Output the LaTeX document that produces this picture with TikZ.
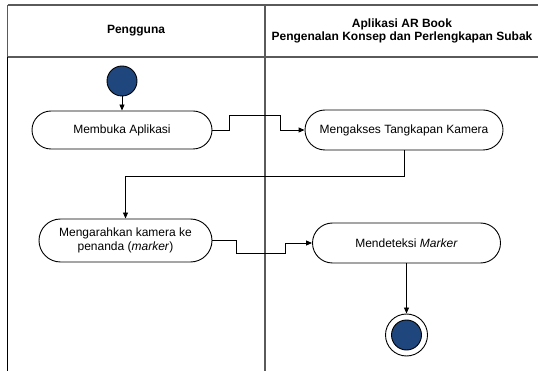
\documentclass[tikz,border=0pt]{standalone}
\usepackage{fontspec}
\setmainfont{Liberation Sans}
\usetikzlibrary{shapes.misc,arrows.meta}
\definecolor{dotblue}{RGB}{31,71,125}
\definecolor{tline}{RGB}{90,90,90}
\tikzset{
  act/.style={draw, line width=0.9pt, rounded rectangle, inner sep=0pt, align=center,
    font=\fontsize{12}{13.5}\selectfont},
  arr/.style={draw, line width=0.9pt, -{Triangle[length=6pt,width=5pt]}},
  conn/.style={draw, line width=0.9pt},
  tbl/.style={draw=tline, line width=1.3pt},
  hdr/.style={font=\bfseries\fontsize{12}{13.5}\selectfont, align=center}
}
\begin{document}
\begin{tikzpicture}[x=1pt,y=-1pt]
\useasboundingbox (0,0) rectangle (538,371);
% table
\draw[tbl] (7.5,5) -- (538,5);
\draw[tbl] (7.5,57) -- (538,57);
\draw[tbl] (7.5,5) -- (7.5,57);
\draw[line width=1.3pt, black] (7.5,57) -- (7.5,371);
\draw[tbl] (265,5) -- (265,371);
\node[hdr] (h1) at (136,31) {Pengguna};
\node[hdr] (h2) at (402,31) {Aplikasi AR Book\\Pengenalan Konsep dan Perlengkapan Subak};
% nodes
\node[draw, line width=0.9pt, circle, fill=dotblue, minimum size=30pt, inner sep=0pt] (start) at (122,81) {};
\node[act, minimum width=180pt, minimum height=38pt] (n1) at (122,130) {Membuka Aplikasi};
\node[act, minimum width=198pt, minimum height=40pt] (n2) at (404,130) {Mengakses Tangkapan Kamera};
\node[act, minimum width=173pt, minimum height=43pt] (n3) at (125.5,240.5) {Mengarahkan kamera ke\\penanda (\textit{marker})};
\node[act, minimum width=188pt, minimum height=40pt] (n4) at (406.5,243) {Mendeteksi \textit{Marker}};
\node[draw, line width=0.9pt, circle, minimum size=42pt, inner sep=0pt] (end) at (406.5,335) {};
\node[draw, line width=0.9pt, circle, fill=dotblue, minimum size=30pt, inner sep=0pt] (endin) at (end.center) {};
% connectors
\draw[arr] (start) -- (n1);
\draw[arr] (n1.east) -- (229,130) -- (229,115) -- (280,115) -- (280,130) -- (n2.west);
\draw[arr] (n2.south) -- ++(0,26) -| (n3.north);
\draw[arr] (n3.east) -- (236,240.5) -- (236,253) -- (285,253) -- (285,243) -- (n4.west);
\draw[arr] (n4.south) -- (end.north);
\end{tikzpicture}
\end{document}
